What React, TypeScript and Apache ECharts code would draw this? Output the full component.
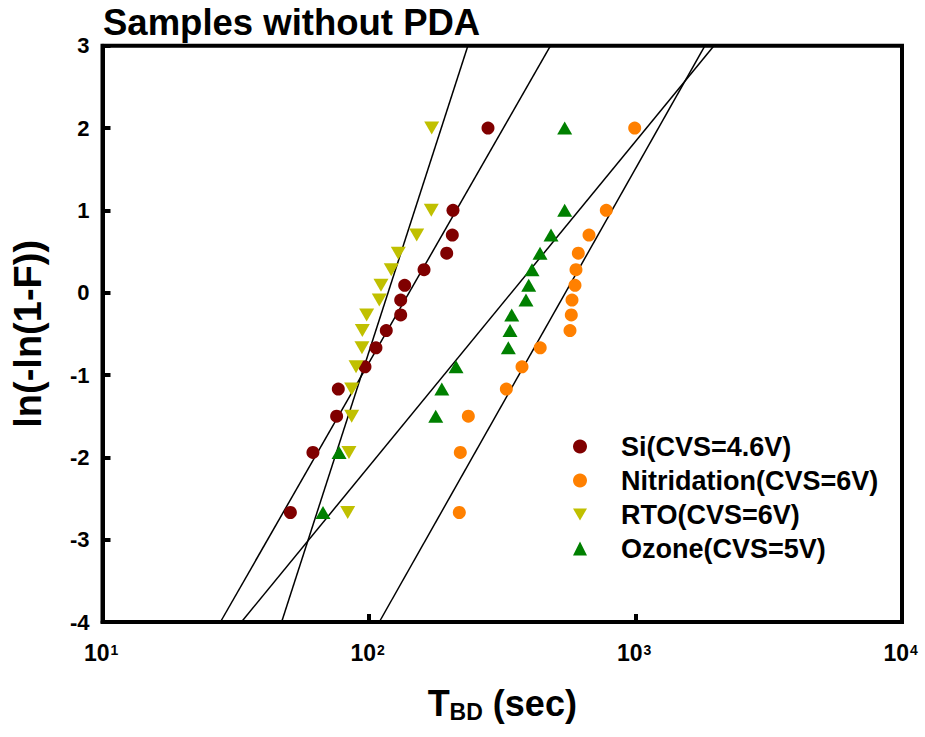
import React, { useEffect, useRef } from "react";
import * as echarts from "echarts";

// Weibull plotting positions ln(-ln(1-F)) shared by all four sample sets
const yLevels = [-2.67, -1.94, -1.5, -1.17, -0.9, -0.67, -0.46, -0.27, -0.09, 0.09, 0.28, 0.48, 0.7, 1.0, 2.0];

// Time to breakdown (sec) for each sample set, same order as yLevels
const siX = [50.7, 61.6, 75.6, 76.7, 96.6, 106.2, 116.1, 131.5, 131.5, 136.1, 160.9, 195.7, 205.4, 206.6, 279.6];
const nitridationX = [218.2, 220.1, 235.9, 327.6, 375.1, 439.0, 567.8, 574.2, 577.7, 592.9, 598.0, 610.1, 669.2, 777.0, 993.1];
const rtoX = [83.2, 84.1, 86.1, 86.1, 89.4, 94.1, 94.4, 98.0, 109.3, 110.9, 121.2, 128.8, 151.0, 171.3, 171.9];
const ozoneX = [67.2, 77.2, 178.0, 187.6, 212.1, 333.3, 338.2, 343.2, 388.2, 397.4, 408.9, 438.3, 481.9, 542.3, 542.3];

// Fitted Weibull lines, endpoints [T, ln(-ln(1-F))]
const siFit = [[27.7, -4], [480, 3]];
const rtoFit = [[47.0, -4], [235, 3]];
const ozoneFit = [[33.2, -4], [1970, 3]];
const nitridationFit = [[109.3, -4], [1823, 3]];

const seriesNames = ["Si(CVS=4.6V)", "Nitridation(CVS=6V)", "RTO(CVS=6V)", "Ozone(CVS=5V)"];
const xTicks = [10, 100, 1000, 10000];
const xTickExponents = ["1", "2", "3", "4"];
const yMin = -4;
const yMax = 3;

const FONT = "Liberation Sans";
const DOWN_TRI = "path://M0,0L10,0L5,8.6Z";

function pts(xs: number[]) {
  return xs.map((x, i) => [x, yLevels[i]]);
}

export default function App() {
  const ref = useRef<HTMLDivElement>(null);
  useEffect(() => {
    if (!ref.current) return;
    const chart = echarts.init(ref.current, undefined, { renderer: "svg" });
    const fitLine = (name: string, data: number[][]) => ({
      type: "line",
      name,
      data,
      showSymbol: false,
      symbol: "none",
      lineStyle: { color: "#000", width: 1.5 },
      z: 1,
      silent: true,
    });
    chart.setOption({
      animation: false,
      backgroundColor: "#fff",
      textStyle: { fontFamily: FONT },
      title: {
        text: "Samples without PDA",
        left: 103,
        top: 3,
        padding: 0,
        textStyle: { fontFamily: FONT, fontSize: 36.5, fontWeight: "bold", color: "#000", lineHeight: 38 },
      },
      legend: {
        orient: "vertical",
        left: 568,
        top: 428,
        itemWidth: 14,
        itemHeight: 14,
        itemGap: 7,
        data: seriesNames,
        textStyle: {
          fontFamily: FONT,
          fontSize: 27,
          fontWeight: "bold",
          color: "#000",
          lineHeight: 27,
          padding: [0, 0, 0, 29],
        },
      },
      grid: {
        left: 102.5,
        top: 45.7,
        width: 799.5,
        height: 576.3,
        show: true,
        borderColor: "#000",
        borderWidth: 4,
        containLabel: false,
      },
      xAxis: {
        type: "log",
        logBase: 10,
        min: xTicks[0],
        max: xTicks[xTicks.length - 1],
        name: "{t|T}{s|BD}{t| (sec)}",
        nameLocation: "middle",
        nameGap: 61,
        nameTextStyle: {
          fontFamily: FONT,
          fontSize: 36,
          fontWeight: "bold",
          color: "#000",
          rich: {
            t: { fontFamily: FONT, fontSize: 36, fontWeight: "bold", color: "#000", lineHeight: 40 },
            s: { fontFamily: FONT, fontSize: 23, fontWeight: "bold", color: "#000", lineHeight: 14, verticalAlign: "bottom" },
          },
        },
        axisLine: { show: true, onZero: false, lineStyle: { color: "#000", width: 4 } },
        axisTick: { show: true, inside: true, length: 8, lineStyle: { color: "#000", width: 4 } },
        splitLine: { show: false },
        minorTick: { show: false },
        axisLabel: { show: false },
      },
      yAxis: {
        type: "value",
        min: yMin,
        max: yMax,
        interval: 1,
        name: "ln(-ln(1-F))",
        nameLocation: "middle",
        nameGap: 56,
        nameTextStyle: { fontFamily: FONT, fontSize: 38, fontWeight: "bold", color: "#000" },
        axisLine: { show: true, onZero: false, lineStyle: { color: "#000", width: 4 } },
        axisTick: { show: true, inside: true, length: 8, lineStyle: { color: "#000", width: 4 } },
        splitLine: { show: false },
        axisLabel: { fontFamily: FONT, fontSize: 22, fontWeight: "bold", color: "#000", margin: 13 },
      },
      series: [
        fitLine("siFit", siFit),
        fitLine("rtoFit", rtoFit),
        fitLine("ozoneFit", ozoneFit),
        fitLine("nitridationFit", nitridationFit),
        {
          type: "scatter",
          name: seriesNames[0],
          data: pts(siX),
          symbol: "circle",
          symbolSize: 13,
          itemStyle: { color: "#800000", opacity: 1 },
          z: 3,
        },
        {
          type: "scatter",
          name: seriesNames[1],
          data: pts(nitridationX),
          symbol: "circle",
          symbolSize: 13,
          itemStyle: { color: "#ff8000", opacity: 1 },
          z: 3,
        },
        {
          type: "scatter",
          name: seriesNames[2],
          data: pts(rtoX),
          symbol: DOWN_TRI,
          symbolSize: [15, 13],
          itemStyle: { color: "#c0c000", opacity: 1 },
          z: 3,
        },
        {
          type: "scatter",
          name: seriesNames[3],
          data: pts(ozoneX),
          symbol: "triangle",
          symbolSize: [15, 13],
          itemStyle: { color: "#008000", opacity: 1 },
          z: 3,
        },
      ],
    });

    // Power-of-ten tick labels placed with the chart's own x scale
    const yBase = chart.convertToPixel({ yAxisIndex: 0 }, yMin) as number;
    const elements: any[] = [];
    xTicks.forEach((v, i) => {
      const px = chart.convertToPixel({ xAxisIndex: 0 }, v) as number;
      elements.push({
        type: "text",
        x: px + 7,
        y: yBase + 31,
        style: {
          text: "10",
          font: `bold 23px '${FONT}'`,
          fill: "#000",
          textAlign: "right",
          textVerticalAlign: "middle",
          align: "right",
          verticalAlign: "middle",
        },
      });
      elements.push({
        type: "text",
        x: px + 8,
        y: yBase + 28,
        style: {
          text: xTickExponents[i],
          font: `bold 14px '${FONT}'`,
          fill: "#000",
          textAlign: "left",
          textVerticalAlign: "middle",
          align: "left",
          verticalAlign: "middle",
        },
      });
    });
    chart.setOption({ graphic: elements });
    return () => chart.dispose();
  }, []);
  return (
    <div
      ref={ref}
      style={{ position: "absolute", left: 0, top: 0, width: 925, height: 737, background: "#fff" }}
    />
  );
}
